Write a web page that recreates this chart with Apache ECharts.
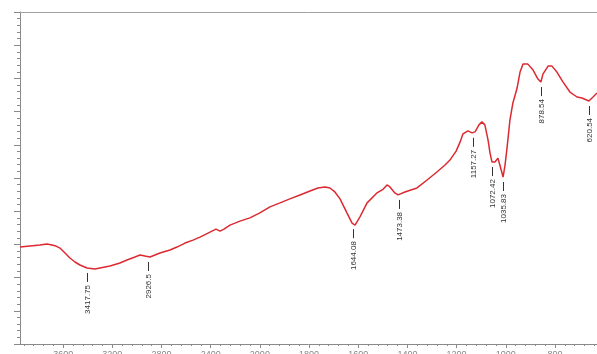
<!DOCTYPE html>
<html>
<head>
<meta charset="utf-8">
<script src="https://cdn.jsdelivr.net/npm/echarts@6/dist/echarts.min.js"></script>
<style>
html,body{margin:0;padding:0;background:#fff;}
#chart{width:597px;height:354px;}
</style>
</head>
<body>
<div id="chart"></div>
<script>
// spectrum: wavenumber (cm-1) and transmittance (%)
var waveNum = [3951,3870,3789,3732,3691,3658,3626,3585,3545,3504,3463,3406,3341,3301,3219,3138,3081,3016,2975,2935,2894,2853,2813,2731,2674,2609,2544,2487,2406,2357,2324,2292,2243,2162,2081,2000,1959,1918,1878,1837,1796,1764,1735,1715,1695,1674,1646,1625,1613,1593,1564,1524,1499,1483,1471,1451,1438,1410,1361,1320,1280,1247,1227,1202,1186,1174,1154,1137,1125,1109,1097,1085,1072,1064,1056,1044,1032,1024,1011,1003,995,983,971,954,942,930,910,889,869,857,849,828,812,792,767,739,710,690,662,645,629];
var transm = [29.2,29.5,29.8,30.1,29.8,29.5,28.9,27.4,25.9,24.7,23.8,22.9,22.6,22.9,23.5,24.4,25.3,26.2,26.8,26.5,26.2,26.8,27.4,28.3,29.2,30.4,31.3,32.2,33.7,34.6,34.0,34.6,35.8,37.0,38.0,39.5,41.3,42.5,43.7,44.9,46.1,47.0,47.3,47.0,45.8,43.7,39.5,36.4,35.8,38.3,42.5,45.5,46.6,47.9,47.3,45.5,44.9,45.8,47.0,49.4,51.8,53.9,55.4,58.1,60.8,63.3,64.2,63.6,63.9,66.0,66.9,66.0,61.4,57.5,54.8,54.8,56.0,53.9,50.3,53.9,59.0,67.5,72.6,77.1,81.9,84.3,84.3,82.5,79.8,78.9,81.3,83.7,83.7,81.9,78.9,75.9,74.4,74.1,73.2,74.4,75.6];

// peak marks: position on the axis, transmittance at the dip, printed text
var peakWn = [3406,2910,1621,1434,1133,1056,1011,857,662];
var peakT = [22.9,26.2,36.1,44.9,63.6,54.8,50.3,78.9,73.2];
var peakText = ['3417.75','2926.5','1644.08','1473.38','1157.27','1072.42','1035.83','878.54','620.54'];

// bottom tick labels (cm-1)
var tickWn = [3600,3200,2800,2400,2000,1800,1600,1400,1200,1000,800];
var axisFrom = 3951, axisTo = 629;

// axis scale halves above 2000 cm-1
function toU(wn) {
    return wn >= 2000 ? (4000 - wn) / 2 : 1000 + (2000 - wn);
}
function fromU(u) {
    return u <= 1000 ? Math.round(4000 - 2 * u) : Math.round(3000 - u);
}

var lineData = [];
for (var i = 0; i < waveNum.length; i++) {
    lineData.push([toU(waveNum[i]), transm[i]]);
}
var peakData = [];
for (var j = 0; j < peakWn.length; j++) {
    peakData.push([toU(peakWn[j]), peakT[j]]);
}
var majorU = tickWn.map(toU);
var minorU = [];
for (var m = 40; m < toU(axisTo); m += 40) {
    if (majorU.indexOf(m) == -1) minorU.push(m);
}

var axisGray = '#8a8a8a';
var chart = echarts.init(document.getElementById('chart'));
var option = {
    animation: false,
    grid: {left: 20, right: 0, top: 12, bottom: 10, containLabel: false, outerBoundsMode: 'none'},
    xAxis: [{
        type: 'value',
        min: toU(axisFrom),
        max: toU(axisTo),
        position: 'bottom',
        axisLine: {lineStyle: {color: axisGray, width: 1}},
        axisTick: {show: true, length: 4, customValues: majorU, lineStyle: {color: axisGray}},
        axisLabel: {
            customValues: majorU,
            margin: 6,
            fontSize: 9,
            color: '#888',
            fontFamily: 'Arial',
            formatter: function (v) { return fromU(v); }
        },
        splitLine: {show: false}
    }, {
        type: 'value',
        min: toU(axisFrom),
        max: toU(axisTo),
        position: 'bottom',
        axisLine: {show: false},
        axisTick: {show: true, length: 2, customValues: minorU, lineStyle: {color: axisGray}},
        axisLabel: {show: false},
        splitLine: {show: false}
    }, {
        type: 'value',
        min: toU(axisFrom),
        max: toU(axisTo),
        position: 'top',
        axisLine: {lineStyle: {color: '#a0a0a0', width: 1}},
        axisTick: {show: false},
        axisLabel: {show: false},
        splitLine: {show: false}
    }],
    yAxis: {
        type: 'value',
        min: 0,
        max: 100,
        interval: 10,
        axisLine: {show: true, lineStyle: {color: axisGray}},
        axisTick: {show: true, length: 6, lineStyle: {color: axisGray}},
        minorTick: {show: true, splitNumber: 5, length: 3, lineStyle: {color: axisGray}},
        axisLabel: {show: false},
        splitLine: {show: false}
    },
    series: [{
        type: 'line',
        data: lineData,
        showSymbol: false,
        lineStyle: {color: '#dc2a32', width: 1.5},
        z: 3
    }, {
        type: 'custom',
        data: peakData,
        renderItem: function (params, api) {
            var p = api.coord([api.value(0), api.value(1)]);
            var x = Math.round(p[0]) + 0.5;
            var y = p[1];
            return {
                type: 'group',
                children: [{
                    type: 'line',
                    shape: {x1: x, y1: y + 5, x2: x, y2: y + 14},
                    style: {stroke: '#333', lineWidth: 1}
                }, {
                    type: 'text',
                    x: x,
                    y: y + 17,
                    rotation: Math.PI / 2,
                    style: {
                        text: peakText[params.dataIndex],
                        align: 'right',
                        verticalAlign: 'middle',
                        fontSize: 8,
                        fontFamily: 'Arial',
                        fill: '#333'
                    }
                }]
            };
        },
        z: 4
    }]
};
chart.setOption(option);
</script>
</body>
</html>
